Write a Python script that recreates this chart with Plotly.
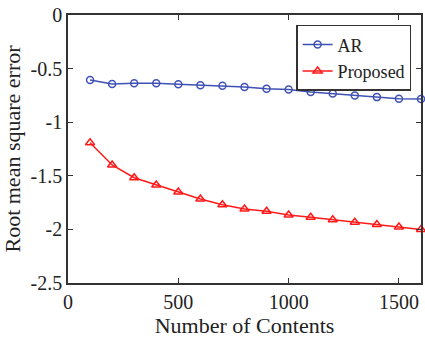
import plotly.graph_objects as go

x_contents = [100, 200, 300, 400, 500, 600, 700, 800, 900, 1000, 1100, 1200, 1300, 1400, 1500, 1600]
ar_rmse = [-0.606, -0.644, -0.637, -0.637, -0.646, -0.656, -0.660, -0.672, -0.687, -0.696,
           -0.718, -0.732, -0.751, -0.766, -0.781, -0.784]
proposed_rmse = [-1.191, -1.399, -1.518, -1.586, -1.651, -1.716, -1.770, -1.810, -1.830, -1.866,
                 -1.887, -1.910, -1.934, -1.955, -1.978, -2.000]
x_ticks = [0, 500, 1000, 1500]
y_ticks = [0, -0.5, -1, -1.5, -2, -2.5]

font = "Liberation Serif"

fig = go.Figure()
fig.add_trace(go.Scatter(
    x=x_contents, y=ar_rmse, name="AR", mode="lines+markers",
    line=dict(color="#3f51b5", width=1.5),
    marker=dict(symbol="circle-open", size=7, color="#3f51b5", line=dict(width=1.5)),
    cliponaxis=False,
))
fig.add_trace(go.Scatter(
    x=x_contents, y=proposed_rmse, name="Proposed", mode="lines+markers",
    line=dict(color="#ff1a1a", width=1.5),
    marker=dict(symbol="triangle-up-open", size=8, color="#ff1a1a", line=dict(width=1.5)),
    cliponaxis=False,
))

axis_common = dict(
    showgrid=False, zeroline=False, showline=True, linecolor="#333", linewidth=1.5,
    mirror="ticks", ticks="inside", ticklen=5, tickcolor="#333",
    tickfont=dict(family=font, size=20, color="#222"),
    ticklabeloverflow="allow",
)
fig.update_xaxes(range=[0, 1600], tickvals=x_ticks,
                 title=dict(text="Number of Contents", font=dict(family=font, size=22, color="#222"), standoff=0),
                 **axis_common)
fig.update_yaxes(range=[-2.5, 0], tickvals=y_ticks, ticktext=["0", "-0.5", "-1", "-1.5", "-2", "-2.5"],
                 title=dict(text="Root mean square error", font=dict(family=font, size=22, color="#222"), standoff=6),
                 **axis_common)

fig.update_layout(
    width=425, height=339,
    margin=dict(l=68, r=2, t=15, b=56),
    paper_bgcolor="white", plot_bgcolor="white",
    showlegend=True,
    legend=dict(x=0.972, y=0.963, xanchor="right", yanchor="top",
                bordercolor="#333", borderwidth=1.5, bgcolor="white",
                font=dict(family=font, size=18, color="#222"),
                tracegroupgap=0),
)

fig.write_html("out.html", config={"displayModeBar": False},
               post_script="document.body.style.margin='0';document.body.style.overflow='hidden';")
